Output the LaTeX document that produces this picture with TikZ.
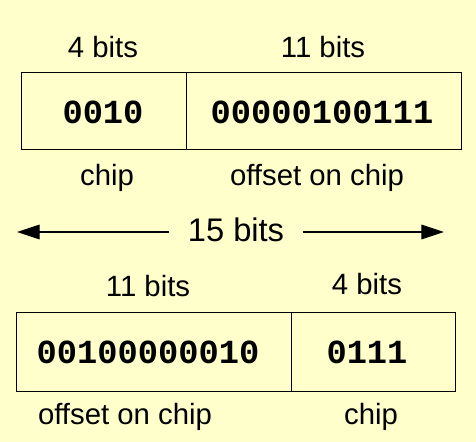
\documentclass[tikz,border=0pt]{standalone}
\usepackage{fontspec}
\setmainfont{Liberation Sans}
\newfontfamily\bitsfont{Liberation Mono}
\usetikzlibrary{arrows.meta}
\definecolor{paleyellow}{RGB}{255,255,204}
\tikzset{every picture/.style={line width=0.75pt}}
\tikzset{
  lbl/.style={inner sep=0.75pt,font=\fontsize{22}{24}\selectfont},
  bitval/.style={inner sep=0.75pt,font=\bitsfont\bfseries\fontsize{25.3}{27}\selectfont},
  widthtxt/.style={inner sep=0.75pt,font=\fontsize{24.5}{26}\selectfont},
  span/.style={-{Triangle[length=17pt,width=11pt]},line width=0.9pt}
}

\begin{document}
\begin{tikzpicture}[x=0.75pt,y=0.75pt,yscale=-1,xscale=1]
	%set diagram to the size of the reference
	\fill [paleyellow] (0,0) rectangle (476,442);
	\useasboundingbox (0,0) rectangle (476,442);

	%Shape: Rectangle [id:top]
	\draw (21,73) rectangle (461,150);
	\draw (186,73) -- (186,150);
	%Shape: Rectangle [id:bottom]
	\draw (16,313) rectangle (455,392);
	\draw (291,313) -- (291,392);

	% Text Node
	\node [lbl] (topchipw) at (103,47) {4 bits};
	% Text Node
	\node [lbl] (topoffw) at (323,47) {11 bits};
	% Text Node
	\node [bitval] (topchip) at (103,112) {0010};
	% Text Node
	\node [bitval] (topoff) at (322,112) {00000100111};
	% Text Node
	\node [lbl] (topchipn) at (107,178) {chip};
	% Text Node
	\node [lbl] (topoffn) at (317,178) {offset on chip};

	% Text Node
	\node [widthtxt] (total) at (236,230) {15 bits};
	\coordinate (lefttip) at (17,232);
	\coordinate (righttip) at (444,232);
	%Straight Lines
	\draw [span] (total.west) ++(-17,2) -- (lefttip);
	\draw [span] (total.east) ++(17,2) -- (righttip);

	% Text Node
	\node [lbl] (botoffw) at (148,286) {11 bits};
	% Text Node
	\node [lbl] (botchipw) at (367,284) {4 bits};
	% Text Node
	\node [bitval] (botoff) at (148,352) {00100000010};
	% Text Node
	\node [bitval] (botchip) at (367,352) {0111};
	% Text Node
	\node [lbl] (botoffn) at (125,417) {offset on chip};
	% Text Node
	\node [lbl] (botchipn) at (371,417) {chip};
\end{tikzpicture}
\end{document}
